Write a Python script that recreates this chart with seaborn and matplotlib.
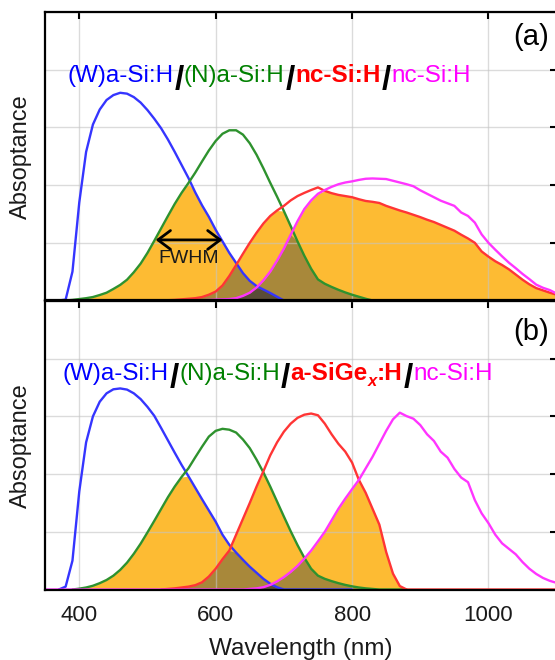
import numpy as np
import pandas as pd
import matplotlib
matplotlib.use("Agg")
import matplotlib.pyplot as plt
import seaborn as sns

# wavelength grid (nm), shared by every curve
WL = list(range(350, 1101, 10))

# panel (a): (W)a-Si:H / (N)a-Si:H / nc-Si:H / nc-Si:H
BLUE_A_START = 370
BLUE_A = [0.0, 0.003, 0.1, 0.34, 0.515, 0.61, 0.662, 0.695, 0.712, 0.72,
          0.717, 0.705, 0.686, 0.66, 0.63, 0.597, 0.558, 0.515, 0.47, 0.425,
          0.375, 0.33, 0.29, 0.245, 0.205, 0.165, 0.13, 0.095, 0.068, 0.05,
          0.038, 0.026, 0.013, 0.0]
GREEN_A_START = 380
GREEN_A = [0.0, 0.002, 0.005, 0.008, 0.012, 0.019, 0.027, 0.04, 0.054, 0.072,
           0.098, 0.128, 0.165, 0.207, 0.25, 0.293, 0.335, 0.373, 0.407, 0.443,
           0.482, 0.52, 0.553, 0.578, 0.59, 0.59, 0.575, 0.545, 0.505, 0.458,
           0.408, 0.36, 0.31, 0.258, 0.205, 0.155, 0.11, 0.073, 0.058, 0.047,
           0.037, 0.028, 0.02, 0.013, 0.006, 0.0]
RED_A_START = 520
RED_A = [0.0, 0.001, 0.002, 0.004, 0.006, 0.008, 0.012, 0.02, 0.031, 0.052,
         0.085, 0.123, 0.162, 0.2, 0.235, 0.267, 0.293, 0.312, 0.328, 0.347,
         0.362, 0.373, 0.383, 0.392, 0.38, 0.372, 0.366, 0.362, 0.358, 0.351,
         0.345, 0.342, 0.338, 0.328, 0.32, 0.312, 0.305, 0.297, 0.289, 0.28,
         0.272, 0.262, 0.252, 0.242, 0.228, 0.215, 0.2, 0.17, 0.152, 0.136,
         0.123, 0.108, 0.09, 0.072, 0.056, 0.043, 0.035, 0.027, 0.02]
MAG_A_START = 570
MAG_A = [0.0, 0.001, 0.002, 0.003, 0.004, 0.005, 0.008, 0.016, 0.027, 0.045,
         0.07, 0.1, 0.138, 0.18, 0.228, 0.275, 0.317, 0.347, 0.37, 0.383,
         0.394, 0.403, 0.409, 0.413, 0.418, 0.422, 0.423, 0.422, 0.421, 0.415,
         0.409, 0.403, 0.396, 0.382, 0.37, 0.358, 0.346, 0.337, 0.328, 0.305,
         0.293, 0.27, 0.229, 0.2, 0.176, 0.153, 0.131, 0.112, 0.092, 0.074,
         0.055, 0.044, 0.036, 0.024]

# panel (b): (W)a-Si:H / (N)a-Si:H / a-SiGex:H / nc-Si:H
BLUE_B_START = 370
BLUE_B = [0.0, 0.01, 0.1, 0.34, 0.51, 0.6, 0.651, 0.68, 0.694, 0.697,
          0.693, 0.68, 0.66, 0.633, 0.602, 0.56, 0.517, 0.474, 0.432, 0.393,
          0.353, 0.313, 0.274, 0.235, 0.19, 0.155, 0.128, 0.103, 0.079, 0.058,
          0.037, 0.02, 0.008, 0.0, 0, 0, 0, 0, 0, 0, 0, 0, 0, 0]
GREEN_B_START = 390
GREEN_B = [0.0, 0.003, 0.007, 0.013, 0.022, 0.033, 0.048, 0.068, 0.093, 0.124,
           0.159, 0.198, 0.238, 0.279, 0.32, 0.357, 0.39, 0.42, 0.458, 0.495,
           0.53, 0.55, 0.557, 0.554, 0.544, 0.52, 0.49, 0.45, 0.406, 0.357,
           0.305, 0.253, 0.202, 0.154, 0.11, 0.072, 0.048, 0.037, 0.029, 0.022,
           0.016, 0.011, 0.007, 0.004, 0.002, 0.0, 0.0, 0.0, 0.0, 0.0]
RED_B_START = 520
RED_B = [0.0, 0.002, 0.004, 0.007, 0.01, 0.015, 0.025, 0.045, 0.072, 0.105,
         0.135, 0.19, 0.245, 0.3, 0.357, 0.41, 0.465, 0.51, 0.547, 0.575,
         0.595, 0.606, 0.61, 0.604, 0.575, 0.538, 0.505, 0.478, 0.44, 0.38,
         0.335, 0.28, 0.225, 0.13, 0.055, 0.012, 0.0, 0, 0, 0,
         0, 0, 0, 0, 0, 0, 0, 0, 0, 0,
         0, 0, 0, 0, 0, 0, 0, 0, 0]
MAG_B_START = 350
MAG_B = [0] * 30 + [
    0.002, 0.004, 0.008, 0.016, 0.028, 0.043, 0.061, 0.082, 0.107, 0.135,
    0.167, 0.2, 0.24, 0.28, 0.315, 0.348, 0.38, 0.42, 0.46, 0.505,
    0.55, 0.59, 0.613, 0.601, 0.592, 0.57, 0.538, 0.515, 0.478, 0.457,
    0.418, 0.388, 0.372, 0.31, 0.264, 0.23, 0.19, 0.16, 0.141, 0.122,
    0.095, 0.072, 0.054, 0.04, 0.03, 0.023]

CURVES = ["blue", "green", "red", "magenta"]
LINE_COLORS = {"blue": "#3535FF", "green": "#2E922E", "red": "#FF3535", "magenta": "#FF35FF"}
ORANGE = "#FDBB33"
BROWN = "#A8883A"
DARK = "#5A4C37"
TEXT = "#1a1a1a"


def on_grid(start, values):
    """Put a curve on the shared WL grid, NaN where it is not drawn"""
    full = np.full(len(WL), np.nan)
    i0 = WL.index(start)
    full[i0:i0 + len(values)] = values
    return full


def draw_panel(ax, curves):
    wl = np.array(WL)
    b, g, r, m = [np.nan_to_num(c) for c in curves]
    f1 = np.minimum(b, g)
    f2 = np.minimum(g, r)
    f3 = np.minimum(r, m)
    for f in (f1, f2, f3):
        ax.fill_between(wl, 0, f, color=ORANGE, lw=0)
    ax.fill_between(wl, 0, np.minimum(f1, f2), color=BROWN, lw=0)
    ax.fill_between(wl, 0, np.minimum(f2, f3), color=BROWN, lw=0)
    ax.fill_between(wl, 0, np.minimum(np.minimum(f1, f2), f3), color=DARK, lw=0)

    df = pd.concat([pd.DataFrame({"wl": WL, "curve": name, "A": vals})
                    for name, vals in zip(CURVES, curves)]).dropna()
    sns.lineplot(data=df, x="wl", y="A", hue="curve", hue_order=CURVES,
                 palette=LINE_COLORS, linewidth=1.7, legend=False,
                 estimator=None, ax=ax)

    ax.set_xlim(350, 1100)
    ax.set_ylim(0, 1.0)
    ax.set_xticks([400, 600, 800, 1000])
    ax.set_yticks([0, 0.2, 0.4, 0.6, 0.8, 1.0])
    ax.set_yticklabels([])
    ax.set_axisbelow("line")
    ax.grid(True, color="#c4c4c4", alpha=0.6, lw=1.0)
    ax.tick_params(direction="in", length=5, width=1.5, top=True, right=True,
                   labelsize=16, pad=11, color="black", labelcolor=TEXT)
    for s in ax.spines.values():
        s.set_color("black")
        s.set_linewidth(1.6)
    ax.set_ylabel("Absoptance", fontsize=17, color=TEXT)
    ax.yaxis.set_label_coords(-0.026, 0.5)
    ax.set_xlabel("")


def draw_label(ax, x, y, parts):
    """Chain coloured text pieces along one baseline"""
    text, kw = parts[0]
    prev = ax.text(x, y, text, transform=ax.transAxes, va="baseline", ha="left", **kw)
    for text, kw in parts[1:]:
        kw = dict(kw)
        dy = kw.pop("dy", 0)
        dx = kw.pop("dx", 0)
        prev = ax.annotate(text, xy=(1, y), xycoords=(prev, "axes fraction"),
                           xytext=(dx, dy), textcoords="offset points",
                           va="baseline", ha="left", **kw)


sns.set_theme(style="whitegrid")
plt.rcParams["font.family"] = ["Liberation Sans", "DejaVu Sans"]

fig = plt.figure(figsize=(5.55, 6.6), dpi=100)
ax_a = fig.add_axes([0.0814, 0.5447, 0.9216, 0.4371])
ax_b = fig.add_axes([0.0814, 0.1068, 0.9216, 0.4371])

draw_panel(ax_a, [on_grid(BLUE_A_START, BLUE_A), on_grid(GREEN_A_START, GREEN_A),
                  on_grid(RED_A_START, RED_A), on_grid(MAG_A_START, MAG_A)])
draw_panel(ax_b, [on_grid(BLUE_B_START, BLUE_B), on_grid(GREEN_B_START, GREEN_B),
                  on_grid(RED_B_START, RED_B), on_grid(MAG_B_START, MAG_B)])
ax_a.set_xticklabels([])
ax_b.set_xlabel("Wavelength (nm)", fontsize=17.5, labelpad=9, color=TEXT)

FS = 17.5
SLASH = {"color": "black", "fontsize": 24, "fontweight": "bold", "dy": -5, "dx": 1}
draw_label(ax_a, 0.043, 0.756, [
    ("(W)a-Si:H", {"color": "#0000FF", "fontsize": FS}),
    ("/", SLASH),
    ("(N)a-Si:H", {"color": "#008000", "fontsize": FS}),
    ("/", SLASH),
    ("nc-Si:H", {"color": "#FF0000", "fontsize": FS, "fontweight": "bold"}),
    ("/", SLASH),
    ("nc-Si:H", {"color": "#FF00FF", "fontsize": FS}),
])
draw_label(ax_b, 0.0334, 0.726, [
    ("(W)a-Si:H", {"color": "#0000FF", "fontsize": FS}),
    ("/", SLASH),
    ("(N)a-Si:H", {"color": "#008000", "fontsize": FS}),
    ("/", SLASH),
    ("a-SiGe", {"color": "#FF0000", "fontsize": FS, "fontweight": "bold"}),
    ("x", {"color": "#FF0000", "fontsize": 12, "fontweight": "bold",
           "fontstyle": "italic", "dy": -4.5}),
    (":H", {"color": "#FF0000", "fontsize": FS, "fontweight": "bold"}),
    ("/", SLASH),
    ("nc-Si:H", {"color": "#FF00FF", "fontsize": FS}),
])

# FWHM marker in panel (a)
ax_a.annotate("", xy=(512, 0.21), xytext=(610, 0.21),
              arrowprops=dict(arrowstyle="<->, head_length=0.6, head_width=0.45",
                              mutation_scale=15, color="black", lw=2,
                              shrinkA=0, shrinkB=0))
ax_a.text(560, 0.145, "FWHM", ha="center", va="center", fontsize=14, color=TEXT)

ax_a.text(0.985, 0.912, "(a)", transform=ax_a.transAxes, ha="right", va="center",
          fontsize=21, color="black")
ax_b.text(0.985, 0.893, "(b)", transform=ax_b.transAxes, ha="right", va="center",
          fontsize=21, color="black")

fig.savefig("out.png", dpi=100)
